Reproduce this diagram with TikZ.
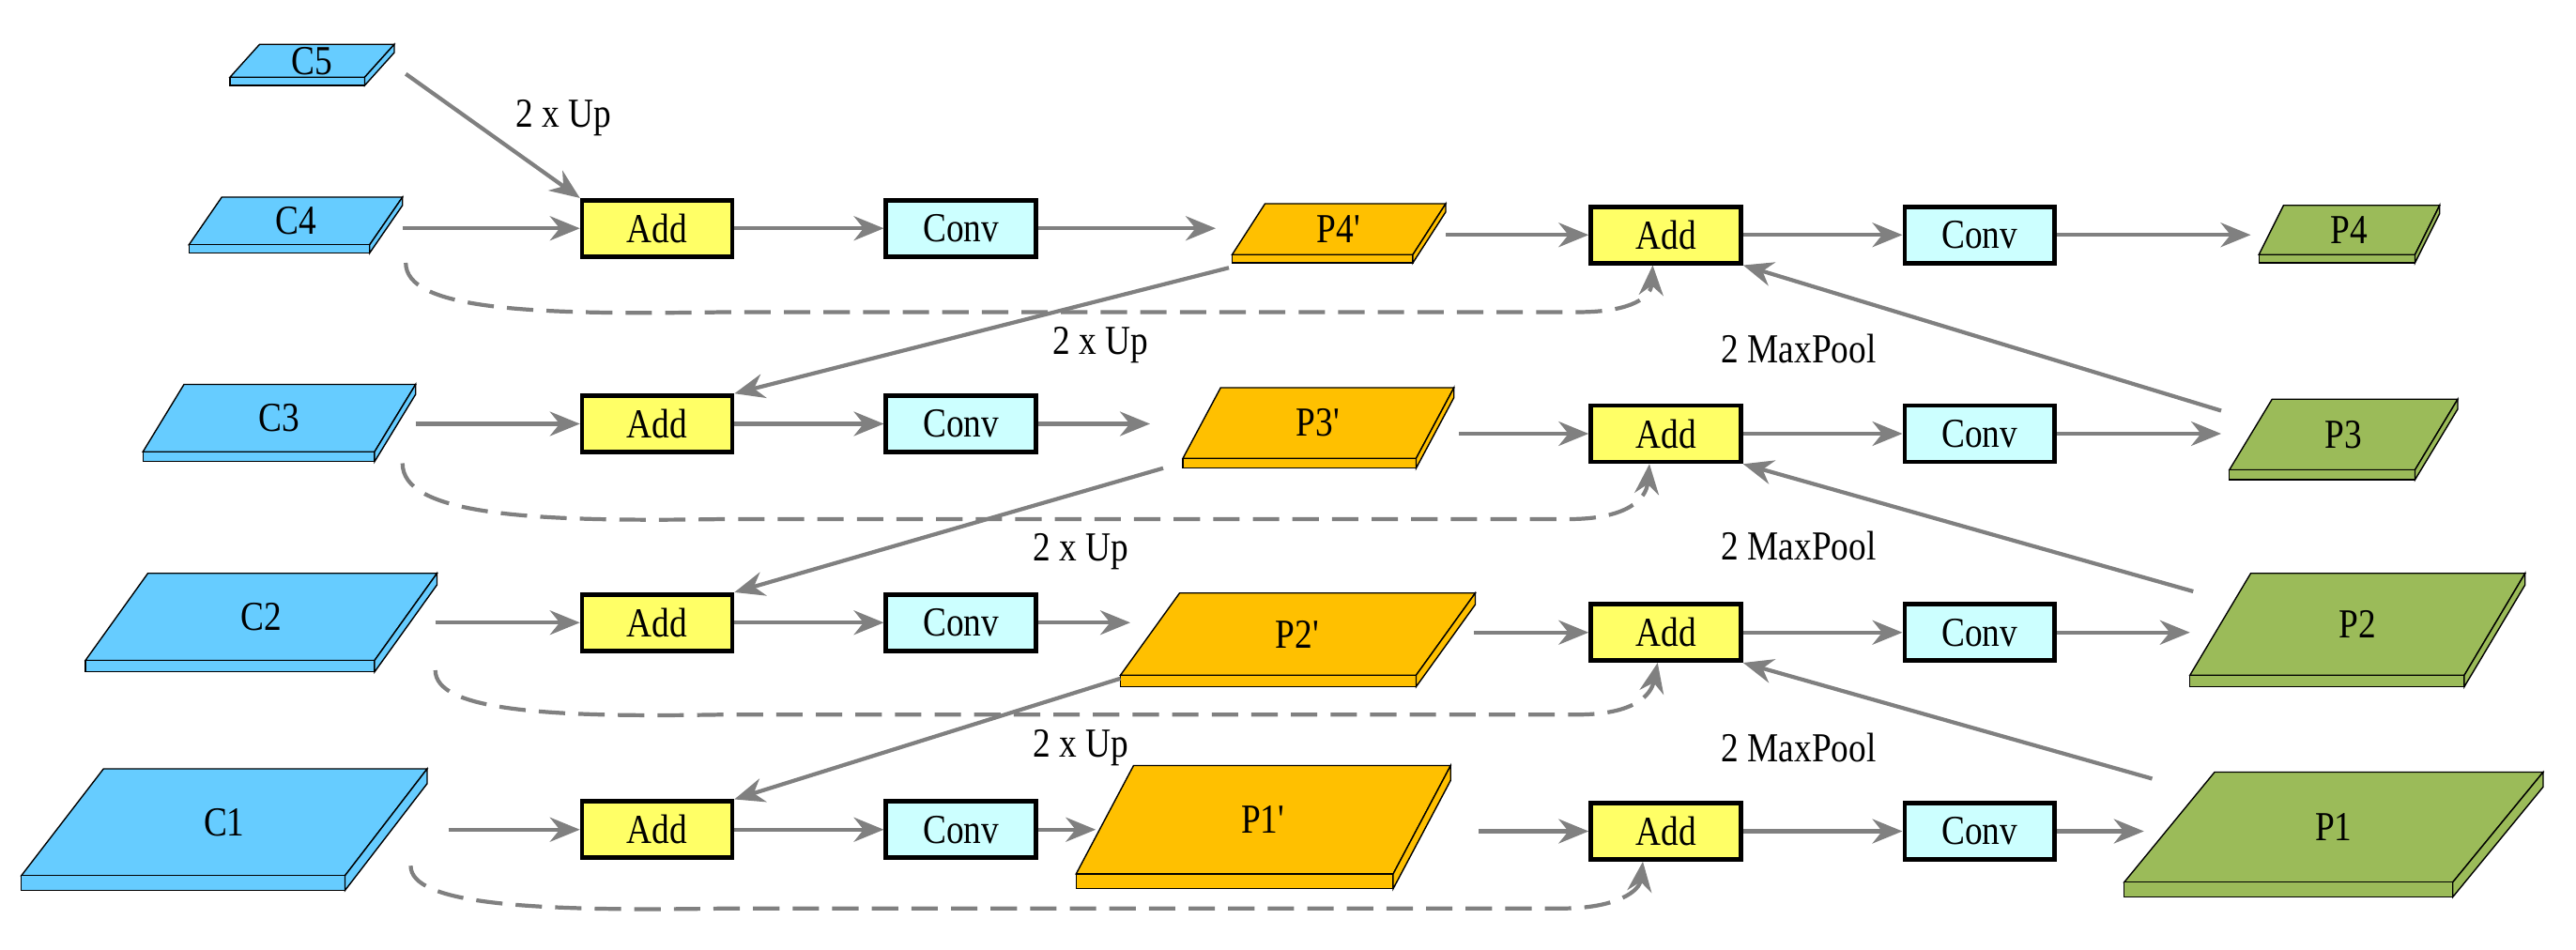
\documentclass[tikz,border=0pt]{standalone}
\usepackage{fontspec}
\setmainfont{Liberation Serif}[FakeStretch=0.85]
\usetikzlibrary{arrows.meta,calc}
\definecolor{cb}{HTML}{66CCFF}
\definecolor{cy}{HTML}{FFFF66}
\definecolor{cc}{HTML}{CCFFFF}
\definecolor{co}{HTML}{FFC000}
\definecolor{cg}{HTML}{9BBB59}
\definecolor{ar}{HTML}{808080}
\newcommand\slab[9]{%
 \fill[#8,draw=black,line width=0.4pt] (#2,#3)--(#2+#6,#3-#5)--(#2+#6+#4,#3-#5)--(#2+#4,#3)--cycle;
 \fill[#8,draw=black,line width=0.4pt] (#2,#3) rectangle (#2+#4,#3+#7);
 \fill[#8,draw=black,line width=0.4pt] (#2+#4,#3)--(#2+#4+#6,#3-#5)--(#2+#4+#6,#3-#5+#7)--(#2+#4,#3+#7)--cycle;
 \node[txt] (#1) at (#2+#4/2+#6/2,#3-#5/2) {#9};}
\tikzset{
 txt/.style={font=\fontsize{12.5}{14}\selectfont,inner sep=0pt},
 add/.style={draw=black,line width=1.3pt,fill=cy,minimum width=1.6cm,minimum height=0.6cm,font=\fontsize{12.5}{14}\selectfont},
 conv/.style={add,fill=cc},
 a/.style={draw=ar,line width=1.2pt,-{Stealth[length=0.32cm,width=0.26cm]}},
 d/.style={a,dash pattern=on 8pt off 4pt},
 lb/.style={font=\fontsize{12.5}{14}\selectfont}
}
\begin{document}
\begin{tikzpicture}[x=0.0175cm,y=-0.0175cm]
\useasboundingbox (0,0) rectangle (1568,578);
\slab{C5}{140}{47}{82}{20}{18}{5}{cb}{C5}
\slab{C4}{115}{149}{110}{29}{20}{5}{cb}{C4}
\slab{C3}{87}{275}{141}{41}{25}{6}{cb}{C3}
\slab{C2}{52}{402}{176}{53}{38}{7}{cb}{C2}
\slab{C1}{13}{533}{197}{65}{50}{9}{cb}{C1}
\slab{P4p}{750}{155}{110}{31}{20}{5}{co}{P4\textquotesingle}
\slab{P3p}{720}{279}{142}{43}{23}{6}{co}{P3\textquotesingle}
\slab{P2p}{682}{411}{180}{50}{36}{7}{co}{P2\textquotesingle}
\slab{P1p}{655}{532}{193}{66}{35}{9}{co}{P1\textquotesingle}
\slab{P4}{1375}{155}{95}{30}{15}{5}{cg}{P4}
\slab{P3}{1357}{286}{113}{43}{26}{6}{cg}{P3}
\slab{P2}{1333}{411}{167}{62}{37}{7}{cg}{P2}
\slab{P1}{1293}{537}{200}{67}{55}{9}{cg}{P1}
\node[add] (a1r4) at (400,139) {Add};
\node[add] (a1r3) at (400,258) {Add};
\node[add] (a1r2) at (400,379) {Add};
\node[add] (a1r1) at (400,505) {Add};
\node[conv] (c1r4) at (585,139) {Conv};
\node[conv] (c1r3) at (585,258) {Conv};
\node[conv] (c1r2) at (585,379) {Conv};
\node[conv] (c1r1) at (585,505) {Conv};
\node[add] (a2r4) at (1014,143) {Add};
\node[add] (a2r3) at (1014,264) {Add};
\node[add] (a2r2) at (1014,385) {Add};
\node[add] (a2r1) at (1014,506) {Add};
\node[conv] (c2r4) at (1205,143) {Conv};
\node[conv] (c2r3) at (1205,264) {Conv};
\node[conv] (c2r2) at (1205,385) {Conv};
\node[conv] (c2r1) at (1205,506) {Conv};
\coordinate (C5o) at (247,45);
\coordinate (C4o) at (245,139); \coordinate (C3o) at (253,258);
\coordinate (C2o) at (265,379); \coordinate (C1o) at (273,505);
\coordinate (P4pi) at (740,139); \coordinate (P3pi) at (700,258);
\coordinate (P2pi) at (688,379); \coordinate (P1pi) at (667,505);
\coordinate (P4po) at (880,143); \coordinate (P3po) at (888,264);
\coordinate (P2po) at (897,385); \coordinate (P1po) at (900,506);
\coordinate (P4pd) at (748,163); \coordinate (P3pd) at (708,285); \coordinate (P2pd) at (682,413);
\coordinate (P4i) at (1370,143); \coordinate (P3i) at (1352,264);
\coordinate (P2i) at (1333,385); \coordinate (P1i) at (1305,506);
\coordinate (P3u) at (1352,250); \coordinate (P2u) at (1335,360); \coordinate (P1u) at (1310,474);
\foreach \r/\c/\pi/\po/\pin in {4/C4o/P4pi/P4po/P4i,3/C3o/P3pi/P3po/P3i,2/C2o/P2pi/P2po/P2i,1/C1o/P1pi/P1po/P1i}{
 \draw[a] (\c) -- (a1r\r.west);
 \draw[a] (a1r\r.east) -- (c1r\r.west);
 \draw[a] (c1r\r.east) -- (\pi);
 \draw[a] (\po) -- (a2r\r.west);
 \draw[a] (a2r\r.east) -- (c2r\r.west);
 \draw[a] (c2r\r.east) -- (\pin);
}
\draw[a] (C5o) -- (a1r4.north west);
\draw[a] (P4pd) -- (a1r3.north east);
\draw[a] (P3pd) -- (a1r2.north east);
\draw[a] (P2pd) -- (a1r1.north east);
\draw[a] (P3u) -- (a2r4.south east);
\draw[a] (P2u) -- (a2r3.south east);
\draw[a] (P1u) -- (a2r2.south east);
\node[lb] (l1) at (343,72) {2 x Up};
\node[lb] (l2) at (670,210) {2 x Up};
\node[lb] (l3) at (658,336) {2 x Up};
\node[lb] (l4) at (658,455) {2 x Up};
\node[lb] (m1) at (1095,212) {2 MaxPool};
\node[lb] (m2) at (1095,332) {2 MaxPool};
\node[lb] (m3) at (1095,455) {2 MaxPool};
\coordinate (s4) at (247,160); \coordinate (s3) at (245,282);
\coordinate (s2) at (265,408); \coordinate (s1) at (250,527);
\draw[d] (s4) .. controls (247,188) and (320,192) .. (440,190) -- (960,190) .. controls (995,190) and (1005,180) .. ($(a2r4.south)+(-8,0)$);
\draw[d] (s3) .. controls (245,313) and (320,318) .. (440,316) -- (955,316) .. controls (990,316) and (1002,304) .. ($(a2r3.south)+(-10,0)$);
\draw[d] (s2) .. controls (265,432) and (330,437) .. (440,435) -- (960,435) .. controls (995,435) and (1005,423) .. ($(a2r2.south)+(-5,0)$);
\draw[d] (s1) .. controls (250,550) and (320,555) .. (440,553) -- (950,553) .. controls (985,553) and (998,542) .. ($(a2r1.south)+(-14,0)$);
\end{tikzpicture}
\end{document}
